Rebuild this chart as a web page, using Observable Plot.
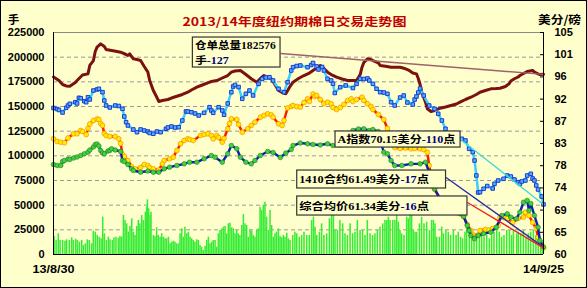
<!DOCTYPE html>
<html><head><meta charset="utf-8">
<script src="https://cdn.jsdelivr.net/npm/d3@7"></script>
<script src="https://cdn.jsdelivr.net/npm/@observablehq/plot@0.6"></script>
<style>
html,body{margin:0;padding:0;background:#fff;}
#chart svg{display:block;outline:1px solid #000;outline-offset:-1px;}
</style></head><body><div id="chart"></div>
<script>
// ---------- text ----------
const title = "2013/14年度纽约期棉日交易走势图";
const leftUnit = "手";
const rightUnit = "美分/磅";
const startLabel = "13/8/30";
const endLabel = "14/9/25";
const leftTicks = [0, 25000, 50000, 75000, 100000, 125000, 150000, 175000, 200000, 225000];
const rightTicks = [60, 64.5, 69, 73.5, 78, 82.5, 87, 91.5, 96, 100.5, 105];

// ---------- data: [trading day, value] ----------
// certificated stock (lots, left axis)
const stock = [[0,179900],[3,176300],[5,172300],[7,170800],[9,170600],[12,174300],[13,176300],[16,181900],[19,183100],[20,191600],[22,196600],[23,205700],[24,210100],[26,213500],[28,210800],[29,207800],[32,206800],[35,205700],[37,205000],[40,202700],[41,201700],[42,203400],[44,198300],[46,197600],[48,196600],[50,190500],[52,184800],[53,176300],[55,166200],[57,159100],[58,155100],[60,156100],[63,157100],[65,158600],[68,160400],[71,162200],[74,164500],[76,166700],[79,169600],[82,171800],[85,174000],[87,175300],[90,176300],[93,178900],[96,181400],[98,184800],[100,186000],[103,186500],[106,182400],[109,178100],[112,174600],[114,178400],[116,181400],[118,179400],[120,178100],[122,172300],[124,166200],[126,164200],[128,162900],[130,169300],[132,174600],[135,178400],[138,181400],[141,183900],[143,186500],[145,189000],[147,191600],[149,188500],[151,184800],[153,182400],[156,179700],[159,177900],[162,176300],[164,176300],[167,176300],[169,182400],[170,189800],[171,194600],[173,198300],[175,197600],[176,196600],[179,194100],[180,191600],[183,190700],[186,189800],[188,189700],[191,189800],[193,188800],[196,186500],[198,183900],[200,183100],[201,178400],[202,172300],[203,164200],[204,159400],[205,154100],[206,147700],[208,144900],[210,145900],[213,148300],[216,149500],[219,151000],[222,152500],[224,154400],[227,157100],[230,159400],[233,162200],[235,164500],[238,166200],[241,167900],[244,168200],[246,168500],[249,170300],[251,173000],[252,175800],[254,178100],[256,179900],[257,181400],[259,183400],[261,185500],[264,186500],[265,185000],[267,183100],[268,182400],[270,182576]];

// Cotlook A index (cents/lb, right axis)
const aIndex = [[0,89.70],[2,89.49],[3,89.29],[5,88.78],[7,89.74],[8,90.20],[9,90.55],[12,90.87],[13,90.61],[14,91.76],[15,91.68],[17,91.07],[18,90.87],[19,91.88],[20,91.42],[22,93.24],[24,93.45],[25,93.59],[27,92.90],[28,91.22],[29,90.20],[31,89.80],[34,90.20],[36,90.10],[38,89.53],[39,87.97],[40,86.82],[41,86.15],[44,85.34],[46,84.79],[48,85.34],[50,85.13],[52,84.93],[53,84.63],[55,84.47],[57,84.93],[59,84.79],[62,85.48],[63,85.74],[65,85.95],[67,85.74],[69,85.80],[71,87.16],[73,88.99],[74,88.99],[76,88.84],[78,88.58],[80,88.18],[83,88.72],[86,89.86],[87,89.19],[88,88.72],[91,89.86],[93,89.19],[94,88.32],[96,90.61],[98,92.90],[99,94.05],[100,94.36],[102,93.95],[104,91.56],[106,92.57],[108,93.24],[110,92.23],[113,94.60],[115,95.61],[117,95.88],[119,95.94],[121,95.27],[124,93.59],[127,92.90],[129,94.93],[131,97.30],[132,97.97],[134,98.21],[136,98.31],[140,97.97],[142,98.41],[143,98.82],[145,98.11],[146,97.50],[148,98.01],[149,97.30],[151,95.61],[153,95.27],[154,94.60],[155,92.74],[158,93.91],[161,94.26],[165,93.75],[167,94.60],[169,95.61],[171,95.57],[173,95.68],[174,95.27],[176,94.60],[178,93.59],[180,92.90],[182,92.84],[184,92.57],[186,90.87],[188,90.20],[191,91.82],[193,92.23],[195,90.81],[198,90.41],[199,91.42],[200,92.03],[201,92.84],[202,93.65],[204,92.23],[207,90.20],[210,89.53],[212,88.52],[214,87.16],[216,85.48],[218,84.12],[220,83.72],[222,83.51],[225,83.45],[227,83.11],[229,81.43],[231,80.74],[232,79.05],[233,76.01],[234,72.57],[235,72.63],[237,73.32],[239,73.88],[242,73.38],[243,74.33],[245,75.00],[248,75.34],[250,76.01],[252,75.81],[254,75.20],[256,74.66],[257,74.33],[258,74.80],[260,75.00],[261,76.01],[263,76.36],[264,75.41],[265,75.00],[266,73.99],[267,73.18],[269,71.76],[270,70.15]];

// composite average price (cents/lb, right axis)
const composite = [[0,83.45],[2,82.91],[4,82.76],[6,82.64],[8,83.61],[11,84.47],[13,84.47],[15,85.13],[16,84.93],[18,84.32],[19,85.54],[20,86.45],[22,87.16],[24,87.47],[25,87.36],[26,86.55],[27,86.15],[28,84.53],[29,84.12],[31,83.92],[34,83.92],[36,83.45],[37,82.50],[38,80.27],[39,79.86],[41,79.05],[43,77.84],[45,77.37],[48,77.63],[50,78.24],[52,78.04],[53,77.63],[55,77.37],[58,77.13],[60,78.38],[61,79.05],[64,79.40],[66,79.72],[68,81.08],[70,82.44],[72,83.11],[74,83.45],[75,83.31],[77,83.11],[81,84.12],[83,84.32],[85,84.47],[87,84.12],[88,83.45],[90,84.12],[91,83.72],[93,82.76],[94,83.51],[96,85.48],[97,86.55],[98,87.51],[101,87.36],[102,86.35],[104,84.79],[107,85.48],[109,86.15],[111,86.82],[114,87.83],[116,88.18],[118,88.52],[120,88.28],[121,87.83],[124,86.49],[126,86.15],[127,87.16],[129,89.70],[131,90.00],[132,90.20],[134,90.00],[136,89.86],[138,90.81],[140,91.56],[141,91.01],[143,92.53],[144,92.03],[145,92.23],[147,91.42],[149,90.61],[151,90.87],[153,90.55],[154,89.80],[156,89.39],[158,89.80],[160,90.41],[162,91.22],[164,91.56],[165,91.01],[167,91.42],[170,91.88],[171,91.22],[173,90.55],[175,90.00],[176,89.39],[179,88.38],[182,87.36],[184,85.54],[186,83.11],[188,81.69],[191,81.49],[194,81.59],[197,81.43],[199,81.49],[202,81.43],[204,81.28],[206,80.68],[207,78.04],[208,76.01],[209,73.78],[210,73.18],[213,71.35],[216,69.73],[219,69.02],[223,68.92],[226,67.70],[228,66.08],[230,64.86],[231,64.05],[234,63.95],[235,64.86],[238,65.07],[240,64.97],[242,65.27],[245,65.88],[246,67.50],[248,67.50],[250,67.30],[253,66.49],[256,67.30],[259,67.56],[260,68.51],[262,67.91],[264,66.49],[266,65.27],[267,63.45],[269,62.03],[270,61.34]];

// 1410 contract (cents/lb, right axis)
const contract1410 = [[0,78.24],[2,78.04],[4,78.04],[5,78.85],[6,79.05],[8,79.36],[9,79.26],[11,79.56],[13,79.76],[15,80.07],[17,80.41],[19,80.74],[20,81.18],[22,81.79],[23,82.30],[24,82.40],[25,81.99],[26,81.08],[27,80.57],[28,80.41],[30,80.98],[31,81.08],[32,81.43],[34,81.18],[37,80.88],[38,79.05],[39,78.85],[41,78.24],[43,77.37],[44,77.03],[48,76.68],[52,76.93],[55,76.68],[58,76.68],[61,77.37],[64,77.70],[68,78.04],[72,78.38],[75,78.71],[79,78.71],[83,79.40],[87,80.07],[89,79.72],[93,78.71],[96,80.41],[98,82.09],[101,81.43],[103,79.72],[106,78.71],[109,78.38],[111,79.05],[114,80.07],[118,80.88],[121,80.68],[125,79.66],[128,80.57],[131,81.28],[132,82.09],[136,82.60],[140,82.44],[143,82.30],[147,82.20],[151,82.44],[154,82.09],[158,82.20],[161,83.51],[165,85.13],[168,85.44],[171,85.48],[174,85.13],[176,85.34],[179,84.93],[180,83.11],[182,80.74],[184,80.41],[186,79.05],[188,78.04],[192,78.04],[197,78.38],[202,78.38],[205,78.71],[207,76.62],[209,74.59],[210,73.32],[213,71.29],[216,69.59],[219,68.92],[222,68.51],[224,68.25],[226,67.70],[228,65.88],[229,64.86],[230,63.85],[232,63.18],[234,63.85],[237,64.20],[241,64.52],[244,65.53],[247,67.91],[250,68.25],[252,67.56],[255,67.24],[257,68.57],[259,70.60],[261,70.95],[262,68.92],[263,70.34],[265,67.91],[267,65.53],[268,62.84],[270,61.49]];

// daily volume (lots, left axis)
const volume = [[0.6,18200],[1.7,14200],[2.9,21000],[3.9,14200],[5.3,14200],[6.6,13500],[7.5,14900],[9.0,14200],[10.3,16900],[11.2,14200],[12.5,15500],[13.4,14200],[14.5,12500],[15.8,14200],[16.7,9100],[17.8,10800],[18.9,14900],[20.0,14200],[21.3,10800],[22.2,23600],[23.3,22600],[24.4,19300],[25.5,17500],[26.5,15900],[27.4,37800],[28.3,21000],[29.4,14200],[30.5,17500],[31.4,14900],[32.7,14200],[33.6,16900],[34.7,17500],[36.0,16500],[36.9,18200],[37.8,17500],[38.8,39500],[39.7,34500],[40.6,31100],[41.5,22600],[42.4,28400],[43.4,36200],[44.3,22600],[45.2,19300],[46.1,28400],[47.0,34500],[47.9,31100],[48.9,39500],[49.8,34500],[50.9,42900],[51.6,47900],[52.0,55400],[52.7,46300],[53.5,39500],[54.0,42900],[55.3,19300],[56.2,18200],[57.1,27100],[58.0,19300],[59.0,17500],[59.9,21000],[60.8,17500],[61.7,15900],[62.6,15900],[63.6,17500],[64.5,10800],[65.4,12500],[66.3,13500],[67.2,12500],[68.1,10800],[69.1,10800],[70.0,21000],[70.9,26000],[71.8,17500],[72.7,27700],[73.7,21000],[74.6,22600],[75.5,17500],[76.4,15900],[77.3,14200],[78.2,12500],[79.2,14900],[80.1,14200],[81.0,9100],[81.9,7400],[82.8,4100],[83.8,8100],[84.7,14200],[85.6,17500],[86.5,10800],[87.4,12500],[88.3,14200],[89.3,14200],[90.2,7400],[91.1,21000],[92.0,24300],[92.9,26000],[93.9,27700],[94.8,28400],[95.7,21000],[96.6,31100],[97.5,31700],[98.5,27100],[99.4,26000],[100.3,21000],[101.2,24300],[102.1,21000],[103.0,19300],[104.0,29400],[104.9,40500],[105.8,31100],[106.7,29400],[107.6,17500],[108.6,25000],[109.5,23600],[110.4,19300],[111.3,17500],[112.2,24300],[113.1,26000],[114.1,47900],[115.0,44600],[115.9,49700],[116.8,53000],[117.7,37800],[118.7,24300],[119.6,44600],[120.5,29400],[121.4,17500],[122.3,21000],[123.2,22600],[124.2,26000],[125.1,18200],[126.0,16900],[126.9,19300],[127.8,17500],[128.8,21600],[129.7,15900],[130.6,14200],[132.1,19300],[133.3,22600],[134.3,21000],[135.7,17500],[137.0,19300],[138.3,22600],[139.8,19300],[141.2,19300],[142.5,34500],[143.5,37800],[144.4,27700],[145.3,19300],[146.8,22600],[148.0,31100],[149.3,19300],[150.8,21000],[152.3,36200],[153.5,41200],[154.5,39500],[155.4,24300],[156.7,24300],[158.1,34500],[159.6,31100],[160.9,21000],[162.2,19300],[163.7,31100],[165.1,21000],[166.4,22600],[167.7,34500],[169.2,24300],[170.6,24300],[171.9,19300],[173.2,34500],[174.7,21000],[176.1,19300],[177.4,21000],[178.7,24300],[180.2,27700],[181.7,31100],[182.9,34500],[183.9,34500],[184.8,37800],[185.7,34500],[187.2,34500],[188.4,34500],[189.4,39500],[190.3,32700],[191.2,24300],[192.1,21000],[193.4,19300],[194.9,37800],[195.8,36200],[196.7,39500],[197.6,41200],[198.5,24300],[199.5,22600],[200.4,22600],[201.9,31100],[203.1,37800],[204.4,31100],[205.9,32700],[207.4,24300],[208.6,34500],[209.6,34500],[210.5,31100],[211.4,17500],[212.9,17500],[214.2,27700],[215.1,21000],[216.5,24300],[217.8,22600],[219.1,19300],[220.6,24300],[222.1,19300],[223.3,22600],[224.6,17500],[225.7,15900],[227.0,22600],[227.9,27700],[229.4,24300],[230.7,17500],[232.0,21000],[233.4,17500],[234.9,21000],[236.2,24300],[237.5,17500],[239.0,19300],[240.4,15900],[241.7,19300],[243.0,22600],[244.5,27700],[245.9,22600],[247.2,17500],[248.5,19300],[250.0,24300],[251.5,24300],[252.7,19300],[253.7,24300],[255.5,21000],[256.4,22600],[257.7,21000],[259.2,24300],[260.6,17500],[261.9,21000],[263.2,22600],[264.7,24300],[266.1,19300],[267.4,21000],[268.7,15900],[269.7,14200]];

// ---------- annotations ----------
const notes = [
  {box:[76.8,125.1,219900,189500], lines:[[["仓单总量182576","#000"]],[["手","#000"],["-127","#00007a"]]], widths:[81,34]},
  {box:[155.4,224.3,124700,108400], lines:[[["A指数70.15美分","#000"],["-110","#00007a"],["点","#000"]]], widths:[118]},
  {box:[134.3,216.3,85100,66900], lines:[[["1410合约61.49美分","#000"],["-17","#00007a"],["点","#000"]]], widths:[130]},
  {box:[134.3,228.1,58800,39500], lines:[[["综合均价61.34美分","#000"],["-16","#00007a"],["点","#000"]]], widths:[130]}
];

const toLeft = p => (p - 60) * 5000;   // right axis (60–105 ¢/lb) onto left axis (0–225000)
const last = a => a[a.length - 1];
const leaders = [
  {x1:125.1, y1:203700, x2:last(stock)[0], y2:last(stock)[1], c:"#a0606c"},
  {x1:224.3, y1:116600, x2:last(aIndex)[0], y2:toLeft(last(aIndex)[1]), c:"#40dada"},
  {x1:216.3, y1:78000, x2:last(contract1410)[0], y2:toLeft(last(contract1410)[1]), c:"#2a2aa8"},
  {x1:228.1, y1:52700, x2:last(composite)[0], y2:toLeft(last(composite)[1]), c:"#ee2020"}
];

const BG = "#FFFFCC";
const bold = {fontWeight:"bold", fill:"#000"};
const numFont = "Liberation Sans, Arial, sans-serif";
const cjkFont = "Noto Sans CJK SC, sans-serif";

const plot = Plot.plot({
  width:587, height:288,
  marginLeft:53, marginRight:44, marginTop:32, marginBottom:34,
  x:{domain:[0,270], axis:null},
  y:{domain:[0,225000], axis:null},
  style:{background:BG, fontFamily:numFont, overflow:"visible"},
  marks:[
    Plot.ruleY(leftTicks.filter(d => d > 0 && d < 225000), {stroke:"#9a9a9a", strokeDasharray:"4,3"}),
    Plot.ruleY([225000], {stroke:"#8a8a8a"}),
    Plot.rect(volume, {x1:d => d[0]-0.42, x2:d => d[0]+0.42, y1:0, y2:d => d[1], fill:"#36ec36"}),
    Plot.line(stock, {x:d => d[0], y:d => d[1], stroke:"#7b1111", strokeWidth:3}),
    Plot.line(aIndex, {x:d => d[0], y:d => toLeft(d[1]), stroke:"#38cfff", strokeWidth:2.5}),
    Plot.dot(aIndex, {x:d => d[0], y:d => toLeft(d[1]), symbol:"square", r:2, fill:"#55b0ff", stroke:"#1a3ccc", strokeWidth:1}),
    Plot.line(composite, {x:d => d[0], y:d => toLeft(d[1]), stroke:"#ff1a00", strokeWidth:2.5}),
    Plot.dot(composite, {x:d => d[0], y:d => toLeft(d[1]), r:2.4, fill:"#ffee00", stroke:"#ff8a00", strokeWidth:0.7}),
    Plot.line(contract1410, {x:d => d[0], y:d => toLeft(d[1]), stroke:"#0a1fb8", strokeWidth:2.4}),
    Plot.dot(contract1410, {x:d => d[0], y:d => toLeft(d[1]), r:2.3, fill:"#3fd23f", stroke:"#237a23", strokeWidth:0.6}),
    Plot.link(leaders, {x1:"x1", y1:"y1", x2:"x2", y2:"y2", stroke:d => d.c, strokeWidth:1.4}),
    Plot.rect(notes, {x1:d => d.box[0], x2:d => d.box[1], y1:d => d.box[2], y2:d => d.box[3], fill:BG, stroke:"#333", strokeWidth:1.2}),
    Plot.ruleX([0, 270], {stroke:"#000"}),
    Plot.ruleY([0], {stroke:"#000"}),
    Plot.ruleY(rightTicks, {y:toLeft, x1:270 - 3*270/490, x2:270, stroke:"#000"}),
    Plot.text(leftTicks, {y:d => d, text:d => String(d), frameAnchor:"left", textAnchor:"end", dx:-9, fontSize:11, ...bold}),
    Plot.text(rightTicks, {y:toLeft, text:d => String(Math.round(d)), frameAnchor:"right", textAnchor:"start", dx:11, fontSize:11, ...bold}),
    Plot.text([startLabel], {frameAnchor:"bottom-left", textAnchor:"middle", dy:18, fontSize:11, ...bold}),
    Plot.text([endLabel], {frameAnchor:"bottom-right", textAnchor:"middle", dy:18, fontSize:11, ...bold}),
    Plot.text([title], {frameAnchor:"top", dx:-4, dy:-15, fontSize:11.5, fontFamily:cjkFont, fontWeight:"bold", fill:"#c00000"}),
    Plot.text([leftUnit], {frameAnchor:"top-left", dx:-40, dy:-17, textAnchor:"middle", fontSize:11.5, fontFamily:cjkFont, ...bold}),
    Plot.text([rightUnit], {frameAnchor:"top-right", dx:16, dy:-17, textAnchor:"middle", fontSize:11.5, fontFamily:cjkFont, ...bold})
  ]
});

document.getElementById("chart").appendChild(plot);

// stretch texts horizontally like the reference
const stretch = {[title]:224, [rightUnit]:43, [startLabel]:42, [endLabel]:41};
plot.querySelectorAll("text").forEach(t => {
  const w = stretch[t.textContent];
  if (w) { t.setAttribute("textLength", w); t.setAttribute("lengthAdjust", "spacingAndGlyphs"); }
});

// annotation texts (mixed colours) placed through the plot's scales
const sx = plot.scale("x"), sy = plot.scale("y");
const layer = d3.select(plot).append("g")
  .attr("font-family", "Liberation Serif, Noto Sans CJK SC, serif")
  .attr("text-anchor", "start")
  .attr("font-weight", "bold").attr("font-size", 10.5);
notes.forEach(n => {
  const x1 = sx.apply(n.box[0]), top = sy.apply(n.box[2]), bot = sy.apply(n.box[3]);
  const h = bot - top, k = n.lines.length;
  n.lines.forEach((line, i) => {
    const tx = x1 + 2.5, ty = top + h * (i + 0.5) / k + (k > 1 ? 1 : 0.5);
    const g = layer.append("g");
    const t = g.append("text").attr("x", 0).attr("y", 0)
      .attr("text-anchor", "start").attr("dominant-baseline", "central");
    line.forEach(([s, c]) => t.append("tspan").attr("fill", c).text(s));
    const w = t.node().getComputedTextLength() || n.widths[i];
    g.attr("transform", `translate(${tx},${ty}) scale(${n.widths[i] / w},1)`);
  });
});
</script></body></html>
